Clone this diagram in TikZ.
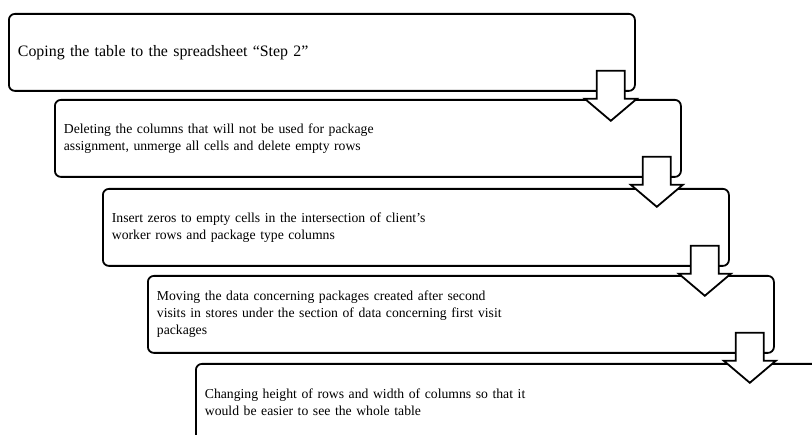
\documentclass[tikz,border=0pt]{standalone}
\usepackage{fontspec}
\setmainfont{Liberation Serif}
\usetikzlibrary{calc}

\tikzset{
  stepbox/.style={draw, line width=1.8pt, rounded corners=6pt, anchor=north west,
    minimum height=77pt, text width=608pt, inner xsep=9pt, align=left,
    font=\fontsize{13.7}{17}\selectfont},
  downarrow/.style={draw, line width=1.8pt, fill=white, line join=miter}
}

\begin{document}
\begin{tikzpicture}[x=1pt,y=-1pt]
\useasboundingbox (0,0) rectangle (812,435);
\clip (0,0) rectangle (812,435);
\node[stepbox, font=\fontsize{15.9}{19}\selectfont] (s1) at (8,13) {Coping the table to the spreadsheet “Step 2”};
\node[stepbox] (s2) at (54,99) {Deleting the columns that will not be used for package\\
  assignment, unmerge all cells and delete empty rows};
\node[stepbox] (s3) at (102,188) {Insert zeros to empty cells in the intersection of client’s\\
  worker rows and package type columns};
\node[stepbox] (s4) at (147,275) {Moving the data concerning packages created after second\\
  visits in stores under the section of data concerning first visit\\
  packages};
\node[stepbox] (s5) at (195,363) {Changing height of rows and width of columns so that it\\
  would be easier to see the whole table};
% block arrows between the steps
\foreach \a in {s1,s2,s3,s4} {
  \draw[downarrow, shift={($(\a.south east)+(-25,0)$)}]
    (-14,-21) -- (14,-21) -- (14,7) -- (26,7) -- (0,29) -- (-26,7) -- (-14,7) -- cycle;
}
\end{tikzpicture}
\end{document}
